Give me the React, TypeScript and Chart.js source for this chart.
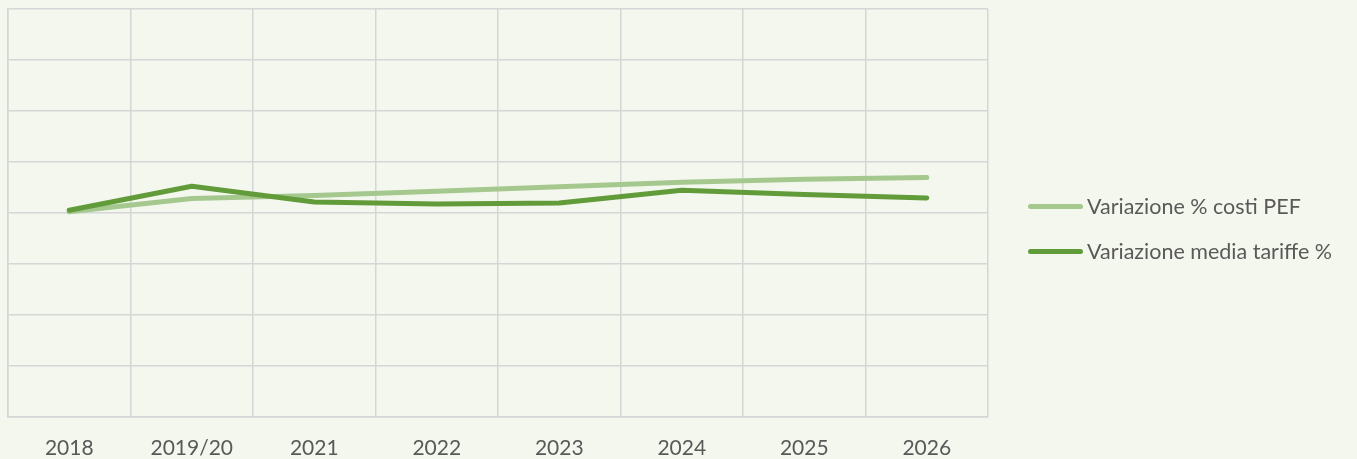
import React, { useEffect, useRef } from "react";
import { Chart, registerables } from "chart.js";

Chart.register(...registerables);

const categories = ["2018", "2019/20", "2021", "2022", "2023", "2024", "2025", "2026"];
const costiPEF = [0.02, 0.28, 0.34, 0.42, 0.51, 0.6, 0.66, 0.69];
const tariffe = [0.05, 0.52, 0.21, 0.17, 0.19, 0.44, 0.36, 0.29];
const seriesLabels = ["Variazione % costi PEF", "Variazione media tariffe %"];
const yMin = -4;
const yMax = 4;
const yStep = 1;

const BG = "#f4f7ee";
const LIGHT = "#a5c88f";
const DARK = "#629b3a";
const TEXT = "#595959";
const GRID = "#d6d6d6";
const FONT = "Lato";

const legendPlugin = {
  id: "customLegend",
  afterDraw(chart: any) {
    const ctx = chart.ctx;
    const rows = [206.5, 251.5];
    const items = [0, 1];
    ctx.save();
    items.forEach((di, i) => {
      const ds = chart.data.datasets[di];
      const y = rows[i];
      ctx.strokeStyle = ds.borderColor;
      ctx.lineWidth = 5;
      ctx.lineCap = "round";
      ctx.beginPath();
      ctx.moveTo(1030.5, y);
      ctx.lineTo(1080.5, y);
      ctx.stroke();
      ctx.fillStyle = TEXT;
      ctx.font = `21.5px ${FONT}`;
      ctx.textBaseline = "middle";
      ctx.textAlign = "left";
      ctx.fillText(ds.label, 1087, y + 1);
    });
    ctx.restore();
  },
};

export default function App() {
  const ref = useRef<HTMLCanvasElement | null>(null);
  useEffect(() => {
    if (!ref.current) return;
    const chart = new Chart(ref.current, {
      type: "line",
      data: {
        labels: categories,
        datasets: [
          {
            label: seriesLabels[0],
            data: costiPEF,
            borderColor: LIGHT,
            backgroundColor: LIGHT,
            borderWidth: 5,
            borderCapStyle: "round",
            borderJoinStyle: "round",
            pointRadius: 0,
            tension: 0,
            order: 1,
          },
          {
            label: seriesLabels[1],
            data: tariffe,
            borderColor: DARK,
            backgroundColor: DARK,
            borderWidth: 5,
            borderCapStyle: "round",
            borderJoinStyle: "round",
            pointRadius: 0,
            tension: 0,
            order: 0,
          },
        ],
      },
      options: {
        animation: false,
        responsive: false,
        layout: { padding: { left: 8, top: 9, right: 369, bottom: 0 } },
        plugins: {
          legend: { display: false },
          tooltip: { enabled: false },
        },
        scales: {
          x: {
            offset: true,
            grid: { color: GRID, lineWidth: 1.5, drawTicks: false, offset: true },
            border: { color: GRID, width: 1.5 },
            ticks: {
              color: TEXT,
              font: { family: FONT, size: 21 },
              padding: 19.5,
              maxRotation: 0,
              autoSkip: false,
            },
            afterFit: (scale: any) => {
              scale.height = 42.5;
            },
          },
          y: {
            min: yMin,
            max: yMax,
            ticks: { display: false, stepSize: yStep },
            grid: { color: GRID, lineWidth: 1.5, drawTicks: false },
            border: { color: GRID, width: 1.5 },
          },
        },
      },
      plugins: [legendPlugin],
    });
    return () => chart.destroy();
  }, []);
  return (
    <div
      style={{
        position: "absolute",
        left: 0,
        top: 0,
        width: 1357,
        height: 459,
        background: BG,
      }}
    >
      <canvas ref={ref} width={1357} height={459} style={{ display: "block" }} />
    </div>
  );
}
